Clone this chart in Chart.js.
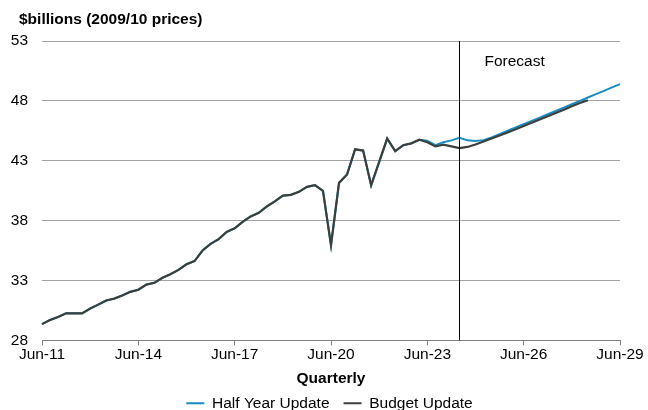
<!DOCTYPE html>
<html>
<head>
<meta charset="utf-8">
<script src="https://cdn.jsdelivr.net/npm/chart.js@4.4.1/dist/chart.umd.min.js"></script>
<style>
  html, body { margin: 0; padding: 0; background: #fff; }
  #wrap { width: 648px; height: 410px; }
</style>
</head>
<body>
<div id="wrap"><canvas id="gdpChart" width="648" height="410"></canvas></div>
<script>
// quarterly real output, $billions (2009/10 prices), Jun-11 .. Jun-29
var startYear = 11;
var quarterNames = ['Jun', 'Sep', 'Dec', 'Mar'];
var quarters = [];
for (let i = 0; i <= 72; i++) {
	let yr = startYear + Math.floor((i + 2) / 4);
	quarters.push(quarterNames[i % 4] + '-' + String(yr).padStart(2, '0'));
}

var forecastFrom = 'Jun-24';
var yTicks = [28, 33, 38, 43, 48, 53];

var halfYear = [
	29.35, 29.7, 29.95, 30.25, 30.25, 30.25, 30.65, 30.98, 31.32, 31.48,
	31.75, 32.05, 32.22, 32.65, 32.8, 33.22, 33.52, 33.88, 34.35, 34.62,
	35.5, 36.05, 36.45, 37.05, 37.35, 37.9, 38.35, 38.65, 39.18, 39.6,
	40.08, 40.15, 40.4, 40.82, 40.96, 40.48, 35.95, 41.15, 41.85, 43.95,
	43.85, 40.95, 42.9, 44.85, 43.8, 44.3, 44.45, 44.75, 44.68, 44.3,
	44.55, 44.7, 44.92, 44.7, 44.65, 44.72, 44.95, 45.22, 45.5, 45.78,
	46.05, 46.33, 46.6, 46.88, 47.15, 47.43, 47.72, 48.0, 48.28, 48.56,
	48.84, 49.12, 49.4
];

var budget = [
	29.35, 29.7, 29.95, 30.25, 30.25, 30.25, 30.65, 30.98, 31.32, 31.48,
	31.75, 32.05, 32.22, 32.65, 32.8, 33.22, 33.52, 33.88, 34.35, 34.62,
	35.5, 36.05, 36.45, 37.05, 37.35, 37.9, 38.35, 38.65, 39.18, 39.6,
	40.08, 40.15, 40.4, 40.82, 40.96, 40.48, 35.95, 41.15, 41.85, 43.95,
	43.85, 40.95, 42.9, 44.85, 43.8, 44.3, 44.45, 44.75, 44.55, 44.2,
	44.35, 44.2, 44.05, 44.15, 44.35, 44.6, 44.85, 45.1, 45.36, 45.62,
	45.9, 46.17, 46.44, 46.72, 46.98, 47.25, 47.55, 47.82, 48.05
];

var fontFamily = '"Liberation Sans", Arial, sans-serif';
Chart.defaults.font.family = fontFamily;
Chart.defaults.font.size = 15.5;
Chart.defaults.color = '#000';

// unit label over the y axis, plus the forecast divider
const extras = {
	id: 'extras',
	afterDraw(chart) {
		const ctx = chart.ctx;
		const area = chart.chartArea;
		const fx = chart.scales.x.getPixelForValue(quarters.indexOf(forecastFrom));
		ctx.save();
		ctx.strokeStyle = '#000';
		ctx.lineWidth = 1;
		ctx.beginPath();
		ctx.moveTo(Math.round(fx) + 0.5, area.top);
		ctx.lineTo(Math.round(fx) + 0.5, area.bottom);
		ctx.stroke();

		ctx.fillStyle = '#000';
		ctx.textBaseline = 'middle';
		ctx.textAlign = 'left';
		ctx.font = '15.5px ' + fontFamily;
		ctx.fillText('Forecast', fx + 25, area.top + 21);

		ctx.font = 'bold 15.5px ' + fontFamily;
		ctx.fillText('$billions (2009/10 prices)', 19, 20);
		ctx.restore();
	}
};

const chartArea = document.getElementById('gdpChart').getContext('2d');
const gdpChart = new Chart(chartArea, {
	type: 'line',
	data: {
		labels: quarters,
		datasets: [{
			label: 'Half Year Update',
			data: halfYear,
			borderColor: '#1a8dc0',
			backgroundColor: '#1a8dc0',
			borderWidth: 2,
			pointRadius: 0,
			tension: 0,
			order: 1
		}, {
			label: 'Budget Update',
			data: budget,
			borderColor: '#3b403d',
			backgroundColor: '#3b403d',
			borderWidth: 2.2,
			pointRadius: 0,
			tension: 0,
			order: 0
		}]
	},
	options: {
		responsive: false,
		animation: false,
		layout: {
			padding: { top: 41, left: 11, right: 0, bottom: -11 }
		},
		plugins: {
			legend: {
				position: 'bottom',
				labels: {
					usePointStyle: true,
					pointStyle: 'line',
					pointStyleWidth: 18,
					padding: 14,
					sort: (a, b) => a.datasetIndex - b.datasetIndex
				}
			},
			tooltip: { enabled: false }
		},
		scales: {
			x: {
				offset: false,
				afterFit: (scale) => {
					// room for the last date label on the right
					scale.paddingLeft = 0;
					scale.paddingRight = 28;
				},
				border: { color: '#7f7f7f', width: 1 },
				grid: {
					drawOnChartArea: false,
					tickLength: 5,
					tickColor: (ctx) => ctx.index % 12 === 0 ? '#7f7f7f' : 'rgba(0,0,0,0)'
				},
				ticks: {
					autoSkip: false,
					maxRotation: 0,
					padding: 0,
					callback: (val, i) => i % 12 === 0 ? quarters[i] : ''
				},
				title: {
					display: true,
					text: 'Quarterly',
					font: { weight: 'bold', size: 15.5 },
					padding: { top: 6, bottom: -7 }
				}
			},
			y: {
				min: 28,
				max: 53,
				afterBuildTicks: (scale) => {
					scale.ticks = yTicks.map(v => ({ value: v }));
				},
				afterFit: (scale) => {
					scale.width = 31;
				},
				border: { display: false },
				grid: {
					color: '#a3a3a3',
					drawTicks: false
				},
				ticks: {
					padding: 14
				}
			}
		}
	},
	plugins: [extras]
});
</script>
</body>
</html>
